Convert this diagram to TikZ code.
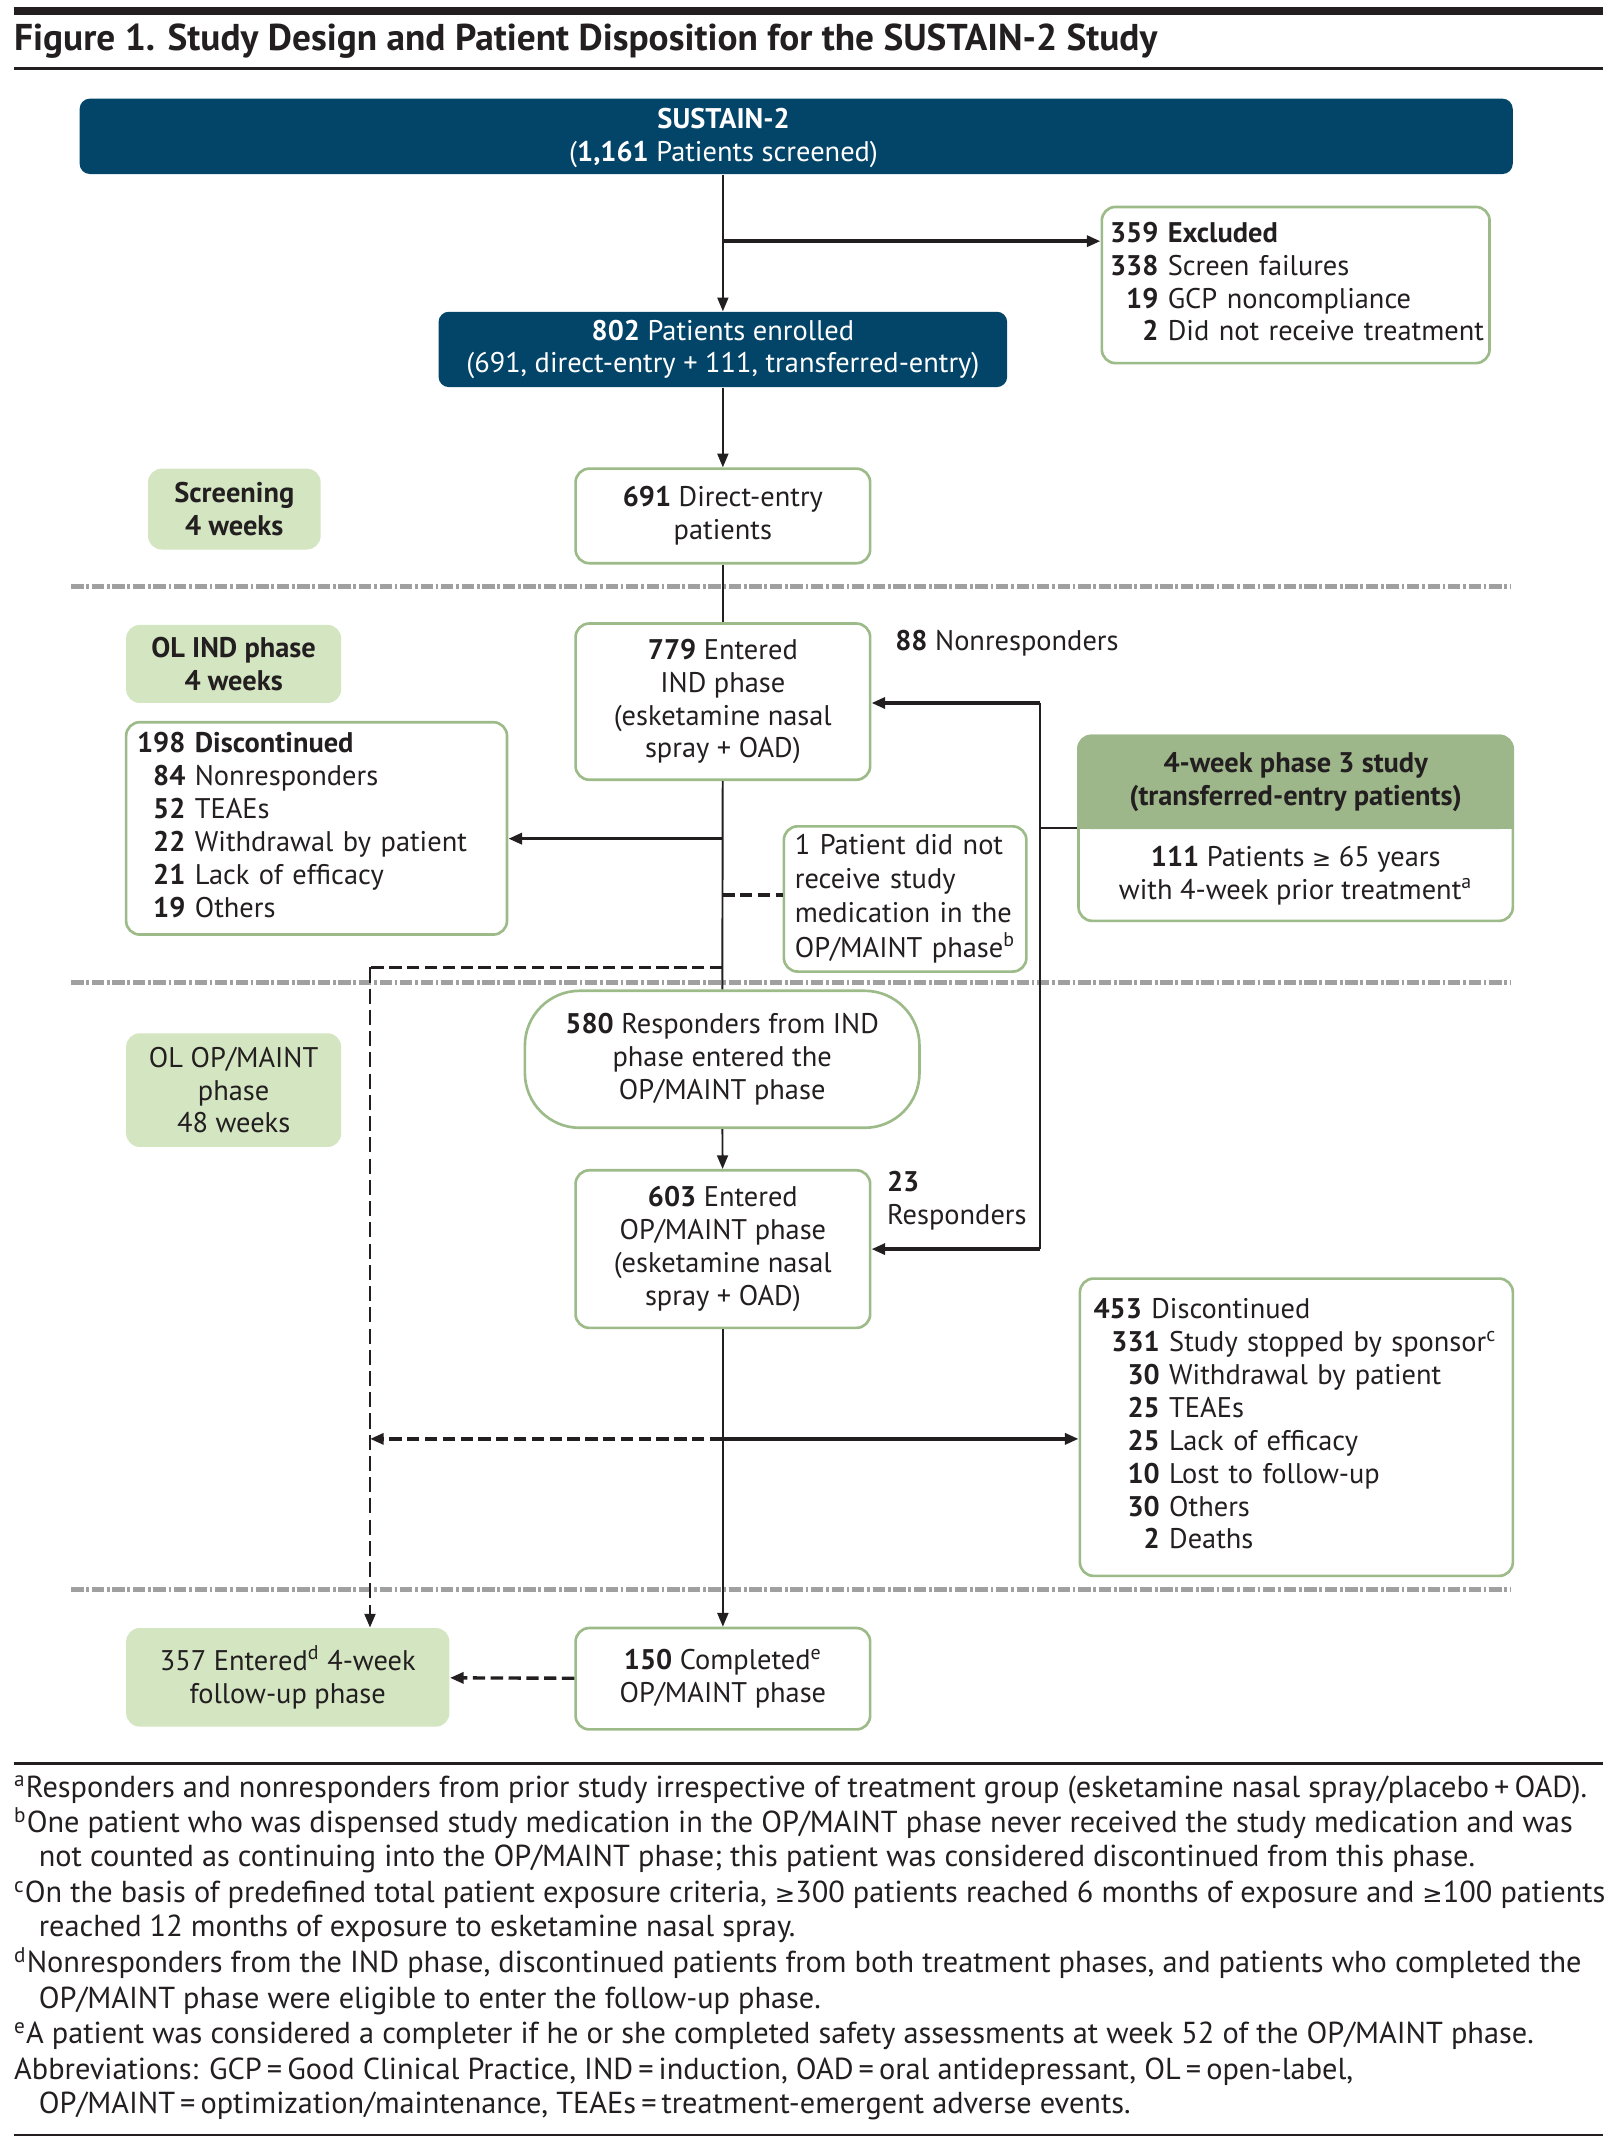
\documentclass[tikz,border=0pt]{standalone}
\usepackage{fontspec}
\setmainfont{PT Sans}
\newfontfamily\symfont{DejaVu Sans}[Scale=0.8]
\usetikzlibrary{arrows.meta}

\definecolor{inkblack}{RGB}{35,31,32}
\definecolor{sustainblue}{RGB}{3,68,105}
\definecolor{boxgreen}{RGB}{157,187,137}
\definecolor{phasegreen}{RGB}{212,229,193}
\definecolor{headgreen}{RGB}{157,183,138}
\definecolor{sepgray}{RGB}{160,160,160}

\newcommand\bodyfont{\fontsize{11.8}{13.66}\selectfont}
\newcommand\notefont{\fontsize{12.6}{14.5}\selectfont}
\newcommand\titlefont{\fontsize{15.5}{18}\selectfont\bfseries}

\tikzset{
  txt/.style={font=\bodyfont, text=inkblack},
  darkbox/.style={txt, fill=sustainblue, text=white, rounded corners=0.15cm, align=center, inner sep=0pt},
  greenbox/.style={txt, draw=boxgreen, line width=1.1pt, fill=white, rounded corners=0.2cm, align=center, inner sep=0pt},
  listbox/.style={greenbox, align=left, inner ysep=0pt},
  phasebox/.style={txt, fill=phasegreen, rounded corners=0.2cm, align=center, inner sep=0pt},
  flow/.style={line width=0.8pt, draw=inkblack},
  arr/.style={flow, -{Triangle[length=0.2cm,width=0.16cm]}},
  thickarr/.style={arr, line width=1.5pt},
  dashflow/.style={flow, line width=1.4pt, dash pattern=on 0.18cm off 0.08cm},
  dashvert/.style={flow, line width=0.9pt, dash pattern=on 0.22cm off 0.09cm},
  sepline/.style={draw=sepgray, line width=1.8pt, dash pattern=on 0.18cm off 0.04cm on 0.04cm off 0.04cm},
  rule/.style={draw=inkblack},
  note/.style={font=\notefont, text=inkblack, anchor=west, inner sep=0pt, text height=0.72em, text depth=0.22em}
}

\begin{document}
\begin{tikzpicture}[x=0.02cm,y=-0.02cm]
  \useasboundingbox (0,0) rectangle (1180,1568.2);

  % heading
  \draw[rule, line width=3.4pt] (10,8) -- (1170,8);
  \node[anchor=west, inner sep=0pt, font=\titlefont, text=inkblack] (title) at (10,30) {Figure 1. Study Design and Patient Disposition for the SUSTAIN-2 Study};
  \draw[rule, line width=1.2pt] (10,50) -- (1170,50);

  % phase separators
  \foreach \y in {428,717,1160}
    \draw[sepline] (52,\y) -- (1102,\y);

  % boxes
  \node[darkbox, minimum width=20.92cm, minimum height=1.1cm] (sustain) at (581,99.5) {};
  \node[txt, text=white, align=center, inner sep=0pt] (sustaintext) at (528,101) {\textbf{SUSTAIN-2}\\(\textbf{1,161} Patients screened)};
  \node[listbox, inner xsep=0.12cm, text width=5.42cm, minimum height=2.28cm] (excl) at (945.5,208)
    {\noindent\begin{tabular}{@{}r@{ }l@{}}
      \textbf{359} & \textbf{Excluded}\\
      \textbf{338} & Screen failures\\
      \textbf{19} & GCP noncompliance\\
      \textbf{2} & Did not receive treatment
    \end{tabular}};
  \node[darkbox, minimum width=8.3cm, minimum height=1.1cm] (enrolled) at (527.5,255) {\textbf{802} Patients enrolled\\(691, direct-entry + 111, transferred-entry)};
  \node[phasebox, font=\bodyfont\bfseries, minimum width=2.52cm, minimum height=1.18cm] (screening) at (171,371.5) {Screening\\4 weeks};
  \node[greenbox, minimum width=4.3cm, minimum height=1.38cm] (direct) at (527.5,376.5) {\textbf{691} Direct-entry\\patients};
  \node[phasebox, font=\bodyfont\bfseries, minimum width=3.14cm, minimum height=1.14cm] (olind) at (170.5,484.5) {OL IND phase\\4 weeks};
  \node[greenbox, minimum width=4.3cm, minimum height=2.28cm] (indphase) at (527.5,512) {\textbf{779} Entered\\IND phase\\(esketamine nasal\\spray + OAD)};
  \node[note, font=\bodyfont] (nonresp) at (653,470) {\textbf{88} Nonresponders};
  \node[listbox, inner xsep=0.16cm, text width=5.24cm, minimum height=3.1cm] (disc1) at (231,604.5)
    {\noindent\begin{tabular}{@{}r@{ }l@{}}
      \textbf{198} & \textbf{Discontinued}\\
      \textbf{84} & Nonresponders\\
      \textbf{52} & TEAEs\\
      \textbf{22} & Withdrawal by patient\\
      \textbf{21} & Lack of efficacy\\
      \textbf{19} & Others
    \end{tabular}};
  \node[listbox, inner xsep=0.16cm, text width=3.22cm, minimum height=2.12cm] (nomed) at (660.5,656)
    {\noindent\renewcommand\arraystretch{1.04}\begin{tabular}{@{}l@{}}
      1 Patient did not\\
      receive study\\
      medication in the\\
      OP/MAINT phase\textsuperscript{b}
    \end{tabular}};

  % transferred-entry box with shaded head
  \node[greenbox, minimum width=6.34cm, minimum height=2.7cm] (transfer) at (945.5,604.5) {};
  \fill[headgreen, rounded corners=0.2cm] (transfer.north west) rectangle (1104.5,605);
  \fill[headgreen] (786.5,590) rectangle (1104.5,605);
  \node[txt, font=\bodyfont\bfseries, align=center] (transhead) at (945.5,571) {4-week phase 3 study\\(transferred-entry patients)};
  \node[txt, align=center] (transbody) at (945.5,639) {\textbf{111} Patients {\symfont ≥} 65 years\\with 4-week prior treatment\textsuperscript{a}};

  \node[greenbox, rounded corners=0.8cm, minimum width=5.76cm, minimum height=2cm] (resp) at (527,773) {\textbf{580} Responders from IND\\phase entered the\\OP/MAINT phase};
  \node[phasebox, minimum width=3.14cm, minimum height=1.66cm] (olmaint) at (170.5,795.5) {OL OP/MAINT\\phase\\48 weeks};
  \node[greenbox, minimum width=4.3cm, minimum height=2.3cm] (maint) at (527.5,911.5) {\textbf{603} Entered\\OP/MAINT phase\\(esketamine nasal\\spray + OAD)};
  \node[txt, align=left, anchor=west, inner sep=0pt] (resp23) at (647,876) {\textbf{23}\\Responders};
  \node[listbox, inner xsep=0.2cm, text width=5.92cm, minimum height=4.34cm] (disc2) at (946,1041.5)
    {\noindent\begin{tabular}{@{\hspace{0.26cm}}r@{ }l@{}}
      \multicolumn{2}{@{}l@{}}{\textbf{453} Discontinued}\\
      \textbf{331} & Study stopped by sponsor\textsuperscript{c}\\
      \textbf{30} & Withdrawal by patient\\
      \textbf{25} & TEAEs\\
      \textbf{25} & Lack of efficacy\\
      \textbf{10} & Lost to follow-up\\
      \textbf{30} & Others\\
      \textbf{2} & Deaths
    \end{tabular}};
  \node[phasebox, minimum width=4.72cm, minimum height=1.44cm] (followup) at (210,1224) {357 Entered\textsuperscript{d} 4-week\\follow-up phase};
  \node[greenbox, minimum width=4.3cm, minimum height=1.48cm] (completed) at (527.5,1225) {\textbf{150} Completed\textsuperscript{e}\\OP/MAINT phase};

  % junctions
  \coordinate (exclsplit) at (527,176);
  \coordinate (disc1split) at (527,612);
  \coordinate (nomedsplit) at (527,653);
  \coordinate (fusplit) at (527,706);
  \coordinate (fucorner) at (270,706);
  \coordinate (disc2split) at (527,1050);
  \coordinate (fujoin) at (270,1050);
  \coordinate (feedtop) at (759,513);
  \coordinate (feedbot) at (759,911.5);

  % connectors
  \draw[arr] (sustain.south -| enrolled.north) -- (enrolled.north);
  \draw[thickarr] (exclsplit) -- (exclsplit -| excl.west);
  \draw[arr] (enrolled) -- (direct);
  \draw[flow] (direct) -- (indphase);
  \draw[flow] (indphase) -- (resp);
  \draw[thickarr] (disc1split) -- (disc1split -| disc1.east);
  \draw[dashflow] (nomedsplit) -- (nomedsplit -| nomed.west);
  \draw[dashflow] (fusplit) -- (fucorner);
  \draw[dashvert, -{Triangle[length=0.2cm,width=0.16cm]}] (fucorner) -- (fucorner |- followup.north);
  \draw[arr] (resp) -- (maint);
  \draw[arr] (maint) -- (completed);
  \draw[thickarr] (disc2split) -- (disc2split -| disc2.west);
  \draw[dashflow, -{Triangle[length=0.2cm,width=0.16cm]}] (disc2split) -- (fujoin);
  \draw[dashflow, -{Triangle[length=0.2cm,width=0.16cm]}] (completed) -- (followup);
  \draw[flow] (transfer.west) -- (transfer.west -| feedtop);
  \draw[flow] (feedtop) -- (feedbot);
  \draw[thickarr] (feedtop) -- (feedtop -| indphase.east);
  \draw[thickarr] (feedbot) -- (maint.east);

  % footnotes
  \draw[rule, line width=1.4pt] (10,1287) -- (1170,1287);
  \node[note] (fna) at (10,1307) {\textsuperscript{a}Responders and nonresponders from prior study irrespective of treatment group (esketamine nasal spray/placebo\,+\,OAD).};
  \node[note] (fnb) at (10,1333) {\textsuperscript{b}One patient who was dispensed study medication in the OP/MAINT phase never received the study medication and was};
  \node[note] (fnbb) at (28,1358) {not counted as continuing into the OP/MAINT phase; this patient was considered discontinued from this phase.};
  \node[note] (fnc) at (10,1384) {\textsuperscript{c}On the basis of predefined total patient exposure criteria, {\symfont ≥}300 patients reached 6 months of exposure and {\symfont ≥}100 patients};
  \node[note] (fncc) at (28,1409) {reached 12 months of exposure to esketamine nasal spray.};
  \node[note] (fnd) at (10,1435) {\textsuperscript{d}Nonresponders from the IND phase, discontinued patients from both treatment phases, and patients who completed the};
  \node[note] (fndd) at (28,1461) {OP/MAINT phase were eligible to enter the follow-up phase.};
  \node[note] (fne) at (10,1487) {\textsuperscript{e}A patient was considered a completer if he or she completed safety assessments at week 52 of the OP/MAINT phase.};
  \node[note] (abbr) at (10,1513) {Abbreviations: GCP\,=\,Good Clinical Practice, IND\,=\,induction, OAD\,=\,oral antidepressant, OL\,=\,open-label,};
  \node[note] (abbrr) at (28,1538) {OP/MAINT\,=\,optimization/maintenance, TEAEs\,=\,treatment-emergent adverse events.};
  \draw[rule, line width=1.2pt] (10,1558) -- (1170,1558);
\end{tikzpicture}
\end{document}
